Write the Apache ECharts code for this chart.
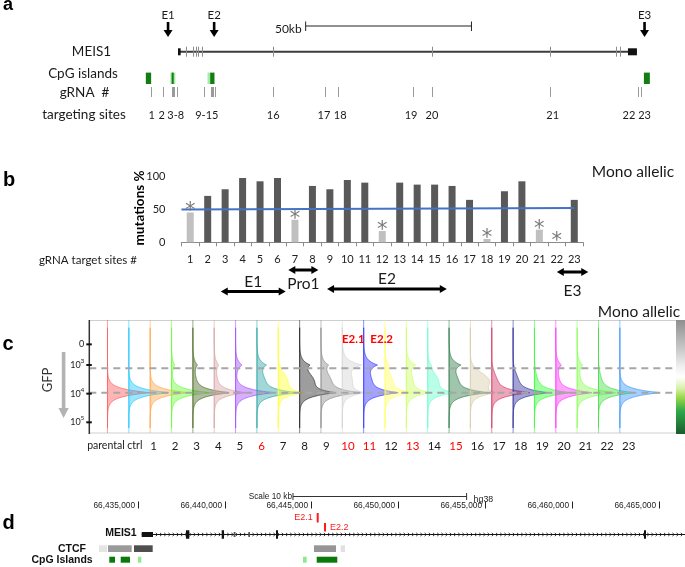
<!DOCTYPE html>
<html><head><meta charset="utf-8">
<script src="https://cdn.jsdelivr.net/npm/echarts@6/dist/echarts.min.js"></script>
<style>html,body{margin:0;padding:0;background:#fff}#chart{width:685px;height:567px}</style>
</head><body><div id="chart"></div>
<script>
// ================= DATA =================
// ---- Panel a: MEIS1 locus (kb from gene start) ----
const geneSpanKb = [0, 138.4];
const endExonsKb = [[0, 0.8], [135.7, 138.4]];
const exonKb = [2.4, 4.5, 5.3, 6.0, 7.1, 28.6, 76.6, 112.3, 132.1, 133.2];
const cpgIslandKb = [[-9.7, -8.1, 1], [-2.3, -0.8, 0], [-1.9, -1.3, 1], [8.9, 9.7, 0], [9.7, 11.0, 1], [140.5, 142.3, 1]];
const gRnaTickKb = [-8.2, -4.6, -1.9, -1.6, -1.2, -0.2, 7.8, 10.0, 10.3, 10.6, 11.2, 28.6, 44.3, 48.3, 70.8, 76.6, 112.3, 138.7, 139.6];
const siteLabelKb = [-7.9, -4.9, -0.7, 8.7, 28.7, 44.0, 48.9, 70.3, 76.6, 113.0, 136.0, 140.7];
const siteLabelText = ['1', '2', '3-8', '9-15', '16', '17', '18', '19', '20', '21', '22', '23'];
const enhancerKb = [-3.0, 10.9, 140.7];
const enhancerNames = ['E1', 'E2', 'E3'];
const scaleBarKb = [38.5, 88.5];
const scaleBarText = '50kb';

// ---- Panel b: mutation % per gRNA target site ----
const sites = ['1','2','3','4','5','6','7','8','9','10','11','12','13','14','15','16','17','18','19','20','21','22','23'];
const mutationPct = [45, 70, 80, 97, 92, 97, 34, 85, 80, 94, 90, 17, 90, 87, 87, 85, 64, 5, 77, 92, 19, 0, 64];
const starred = [1, 0, 0, 0, 0, 0, 1, 0, 0, 0, 0, 1, 0, 0, 0, 0, 0, 1, 0, 0, 1, 1, 0];
const trendSite = [0.5, 23];
const trendPct = [49.5, 51.8];
const regionNames = ['E1', 'Pro1', 'E2', 'E3'];
const regionFrom = [2.75, 6.62, 8.84, 22.0];
const regionTo = [6.47, 8.34, 15.7, 23.8];

// ---- Panel c: GFP flow histograms (25 lanes) ----
const laneColors = ['#ff5a5a','#1ec8ff','#ffa64d','#66ff33','#4d6b26','#d9a3a3','#a64dff','#2ea6a6','#ffff33','#262626','#8c8c8c','#d4d4d4','#3333ff','#ffff66','#ccff66','#66ffcc','#2e7d4a','#d6cca8','#d63864','#30309e','#33ff33','#ff33ff','#88ff55','#44dd44','#3c96ff'];
const mainPeak  = [2.0,1.9,1.8,1.8,1.7,1.45,1.8,1.85,1.05,1.5,1.75,0.9,1.55,1.2,1.05,1.1,1.75,0.9,1.75,1.6,1.7,1.7,1.8,1.65,1.9];
const upperPeak = [0,0,0,0.15,0.2,0.2,0.3,0.4,0,0.4,0.3,0.85,0.6,0.15,0.4,0.1,0.5,0,0,0,0,0.25,0.25,0,0];
const shoulder  = [0,0,0,0,0.1,0.1,0,0.3,0.4,0.6,0.4,0.4,0.3,0.3,0.25,0.45,0.35,0.85,0.2,0.2,0.1,0.1,0.1,0.1,0];
const gfpTickVal = [2.28, 3, 4, 5];
const gfpTickBase = ['0', '10', '10', '10'];
const gfpTickExp = ['', '3', '4', '5'];
const gateLines = [3.115, 3.967];
const laneLabels = ['parental ctrl','1','2','3','4','5','6','7','8','9','10','11','12','13','14','15','16','17','18','19','20','21','22','23'];
const redLabels = ['6', '10', '11', '13', '15'];
const laneAnnot = [['10', 'E2.1'], ['11', 'E2.2']];

// ---- Panel d: UCSC view (hg38) ----
const ucscTicks = [66435000, 66440000, 66445000, 66450000, 66455000, 66460000, 66465000];
const scaleD = [66443946, 66453946];
const geneSpanD = [66435230, 66470000];
const utrD = [66435230, 66435881];
const exonsD = [[66437782, 66437972, 1], [66439839, 66439971, 1], [66440530, 66440622, 0], [66441382, 66441469, 0], [66442967, 66443082, 1], [66464165, 66464280, 1]];
const ctcfD = [[66432771, 66433232, 0.05], [66433289, 66434654, 0.4], [66434787, 66435864, 0.75], [66445156, 66446423, 0.42], [66446694, 66446941, 0.07]];
const cpgD = [[66433364, 66433692, 1], [66434021, 66434556, 1], [66435017, 66435207, 0], [66444522, 66444735, 0], [66445311, 66446498, 1]];
const guidesD = [66445369, 66445790];
const guideNames = ['E2.1', 'E2.2'];

// ================= STYLE / RENDER =================
const FONT = 'Lato, "Noto Sans", sans-serif';
const ARIAL = '"Liberation Sans", Arial, sans-serif';
function hexA(hex, a) {
  const n = parseInt(hex.slice(1), 16);
  return 'rgba(' + (n >> 16) + ',' + ((n >> 8) & 255) + ',' + (n & 255) + ',' + a + ')';
}
function X(api, v) { return api.coord([v, 0])[0]; }
function fmt(n) { return String(n).replace(/\B(?=(\d{3})+(?!\d))/g, ','); }
function T(text, x, y, o) {
  o = o || {};
  return { type: 'text', x: x, y: y, rotation: o.rot || 0, silent: true,
    style: { text: text, x: 0, y: 0, fill: o.color || '#1a1a1a', fontSize: o.size || 12, fontFamily: o.font || FONT,
      fontWeight: o.weight || 'normal', align: o.align || 'center', verticalAlign: 'middle' } };
}
function cs(xi, yi, data, render, z) {
  return { type: 'custom', xAxisIndex: xi, yAxisIndex: yi, data: data, renderItem: render, silent: true, animation: false, clip: false, z: z || 2 };
}
const series = [];

// ---- Panel a ----
series.push(cs(0, 0, [geneSpanKb], (p, api) => ({ type: 'line',
  shape: { x1: X(api, api.value(0)), y1: 51.7, x2: X(api, api.value(1)), y2: 51.7 }, style: { stroke: '#3c3c3c', lineWidth: 2 } })));
series.push(cs(0, 0, endExonsKb, (p, api) => {
  const x1 = X(api, api.value(0)), x2 = X(api, api.value(1));
  return { type: 'rect', shape: { x: x1, y: 48.3, width: Math.max(2.5, x2 - x1), height: 7 }, style: { fill: '#111' } };
}, 3));
series.push(cs(0, 0, exonKb.map(v => [v]), (p, api) => {
  const x = Math.round(X(api, api.value(0))) + 0.5;
  return { type: 'line', shape: { x1: x, y1: 46.7, x2: x, y2: 56.7 }, style: { stroke: '#8c8c8c', lineWidth: 1 } };
}, 3));
series.push(cs(0, 0, cpgIslandKb, (p, api) => {
  const x1 = X(api, api.value(0)), x2 = X(api, api.value(1));
  return { type: 'rect', shape: { x: x1, y: 72.6, width: x2 - x1, height: 11.4 }, style: { fill: api.value(2) ? '#137c13' : '#a6eaa6' } };
}));
series.push(cs(0, 0, gRnaTickKb.map(v => [v]), (p, api) => {
  const x = Math.round(X(api, api.value(0))) + 0.5;
  return { type: 'line', shape: { x1: x, y1: 87, x2: x, y2: 97 }, style: { stroke: '#9a9a9a', lineWidth: 1 } };
}));
series.push(cs(0, 0, siteLabelKb.map((v, i) => [v, i]), (p, api) =>
  T(siteLabelText[api.value(1)], X(api, api.value(0)), 115, { size: 11 })));
series.push(cs(0, 0, enhancerKb.map((v, i) => [v, i]), (p, api) => {
  const x = X(api, api.value(0));
  return { type: 'group', children: [
    T(enhancerNames[api.value(1)], x, 15, { size: 11.5 }),
    { type: 'rect', shape: { x: x - 1.3, y: 22, width: 2.6, height: 9 }, style: { fill: '#000' } },
    { type: 'polygon', shape: { points: [[x - 4.5, 30], [x + 4.5, 30], [x, 37]] }, style: { fill: '#000' } }
  ] };
}));
series.push(cs(0, 0, [scaleBarKb], (p, api) => {
  const x1 = X(api, api.value(0)), x2 = X(api, api.value(1));
  return { type: 'group', children: [
    { type: 'line', shape: { x1: x1, y1: 26, x2: x2, y2: 26 }, style: { stroke: '#222', lineWidth: 1 } },
    { type: 'line', shape: { x1: x1, y1: 21.5, x2: x1, y2: 31 }, style: { stroke: '#222', lineWidth: 1 } },
    { type: 'line', shape: { x1: x2, y1: 21.5, x2: x2, y2: 31 }, style: { stroke: '#222', lineWidth: 1 } },
    T(scaleBarText, x1 - 4, 28.7, { size: 12, align: 'right' })
  ] };
}));

// ---- Panel b ----
series.push({ type: 'bar', xAxisIndex: 1, yAxisIndex: 1, barWidth: 7, animation: false, silent: true,
  data: mutationPct.map((v, i) => ({ value: v, itemStyle: { color: starred[i] ? '#c0c0c0' : '#595959' } })) });
series.push({ type: 'line', xAxisIndex: 2, yAxisIndex: 1, animation: false, silent: true, symbol: 'none',
  lineStyle: { color: '#4472c4', width: 2 }, data: trendSite.map((s, i) => [s, trendPct[i]]), z: 4 });
series.push(cs(1, 1, mutationPct.map((v, i) => [i, v]).filter((d, i) => starred[i]), (p, api) => {
  const pt = api.coord([api.value(0), api.value(1)]);
  return T('*', pt[0], pt[1] - 0.5, { size: 21, color: '#7a7a7a', font: '"DejaVu Sans", sans-serif' });
}, 5));
series.push(cs(2, 1, regionNames.map((n, i) => [regionFrom[i], regionTo[i], i]), (p, api) => {
  const x1 = X(api, api.value(0)), x2 = X(api, api.value(1)), i = api.value(2);
  const lay = { E1: [291.5, 281.5], Pro1: [270, 283.5], E2: [289, 279], E3: [272, 290.5] }[regionNames[i]];
  const y = lay[0];
  return { type: 'group', children: [
    { type: 'line', shape: { x1: x1 + 5, y1: y, x2: x2 - 5, y2: y }, style: { stroke: '#000', lineWidth: 3 } },
    { type: 'polygon', shape: { points: [[x1, y], [x1 + 7, y - 4], [x1 + 7, y + 4]] }, style: { fill: '#000' } },
    { type: 'polygon', shape: { points: [[x2, y], [x2 - 7, y - 4], [x2 - 7, y + 4]] }, style: { fill: '#000' } },
    T(regionNames[i], (x1 + x2) / 2, lay[1], { size: 15.5 })
  ] };
}));

// ---- Panel c ----
const MAIN_POS = 3.967, UPPER_POS = 3.0, SHOULDER_POS = 3.55;
series.push(cs(3, 2, [[0]], (p, api) => {
  const l = X(api, -0.852), r = X(api, 26.63);
  const top = api.coord([0, 1.43])[1], bot = api.coord([0, 5.373])[1];
  return { type: 'group', children: [
    { type: 'line', shape: { x1: l, y1: top + 0.5, x2: r, y2: top + 0.5 }, style: { stroke: '#cfcfcf', lineWidth: 1 } },
    { type: 'line', shape: { x1: l, y1: bot, x2: r, y2: bot }, style: { stroke: '#cfcfcf', lineWidth: 1 } }
  ] };
}, 1));
series.push(cs(3, 2, laneColors.map((c, i) => [i, mainPeak[i], upperPeak[i], shoulder[i]]), (p, api) => {
  const i = api.value(0), m = api.value(1), u = api.value(2), s = api.value(3);
  const x0 = X(api, i);
  const unit = api.size([1, 0])[0];
  const col = laneColors[i];
  const yTop = api.coord([i, 1.43])[1], yBot = api.coord([i, 5.373])[1];
  const pts = [[x0, api.coord([i, 1.7])[1]]];
  for (let v = 1.7; v <= 5.2; v += 0.01) {
    const off = m * Math.exp(-Math.abs(v - MAIN_POS) / 0.14) + u * Math.exp(-Math.abs(v - UPPER_POS) / 0.17)
      + s * Math.exp(-Math.pow((v - SHOULDER_POS) / 0.28, 2) / 2);
    pts.push([x0 + off * unit, api.coord([i, v])[1]]);
  }
  pts.push([x0, api.coord([i, 5.2])[1]]);
  return { type: 'group', children: [
    { type: 'line', shape: { x1: x0, y1: yTop, x2: x0, y2: yBot }, style: { stroke: hexA(col, 0.55), lineWidth: 1 } },
    { type: 'polygon', shape: { points: pts }, style: { fill: hexA(col, 0.45), stroke: hexA(col, 0.9), lineWidth: 0.8 } }
  ] };
}, 2));
series.push(cs(3, 2, gateLines.map(v => [v]), (p, api) => {
  const y = api.coord([0, api.value(0)])[1];
  return { type: 'line', shape: { x1: X(api, -0.852), y1: y, x2: X(api, 26.63), y2: y },
    style: { stroke: '#a6a6a6', lineWidth: 2, lineDash: [7, 5] } };
}, 6));
series.push(cs(3, 2, [[0]], (p, api) => {
  const x = X(api, -0.852);
  return { type: 'line', shape: { x1: x, y1: api.coord([0, 1.43])[1], x2: x, y2: api.coord([0, 5.373])[1] + 1 },
    style: { stroke: '#333', lineWidth: 1.5 } };
}, 7));
series.push(cs(3, 2, gfpTickVal.map((v, i) => [v, i]), (p, api) => {
  const x = X(api, -0.852), y = api.coord([0, api.value(0)])[1], i = api.value(1);
  const ch = [{ type: 'line', shape: { x1: x - 3, y1: y, x2: x + 2.5, y2: y }, style: { stroke: '#111', lineWidth: 2 } }];
  if (gfpTickExp[i]) {
    ch.push(T(gfpTickExp[i], x - 5, y - 4, { size: 6.5, align: 'right', color: '#222' }));
    ch.push(T(gfpTickBase[i], x - 8.5, y, { size: 9, align: 'right', color: '#222' }));
  } else {
    ch.push(T(gfpTickBase[i], x - 5, y, { size: 9, align: 'right', color: '#222' }));
  }
  return { type: 'group', children: ch };
}, 7));
series.push(cs(4, 3, laneLabels.map((l, i) => [i]), (p, api) => {
  const i = api.value(0), x = X(api, i);
  const lab = laneLabels[i];
  if (i === 0) return T(lab, x + 10.5, 446, { size: 10.5, align: 'right' });
  return T(lab, x, 446, { size: 11.5, color: redLabels.indexOf(lab) >= 0 ? '#ff0000' : '#1a1a1a' });
}));
series.push(cs(4, 3, laneAnnot.map((a, k) => [laneLabels.indexOf(a[0]), k]), (p, api) => {
  const k = api.value(1), x = X(api, api.value(0)) + [5.4, 12.2][k];
  return T(laneAnnot[k][1], x, 339, { size: 11.5, weight: 'bold', color: '#ff0000' });
}));

// ---- Panel d ----
series.push(cs(5, 4, ucscTicks.map(v => [v]), (p, api) => {
  const x = Math.round(X(api, api.value(0))) + 0.5;
  return { type: 'group', children: [
    { type: 'line', shape: { x1: x, y1: 501.5, x2: x, y2: 508.5 }, style: { stroke: '#222', lineWidth: 1 } },
    T(fmt(api.value(0)), x - 3.5, 506, { size: 8.3, font: ARIAL, align: 'right', color: '#222' })
  ] };
}));
series.push(cs(5, 4, [scaleD], (p, api) => {
  const x1 = X(api, api.value(0)), x2 = X(api, api.value(1));
  return { type: 'group', children: [
    { type: 'line', shape: { x1: x1, y1: 496.5, x2: x2, y2: 496.5 }, style: { stroke: '#333', lineWidth: 1 } },
    { type: 'line', shape: { x1: x1, y1: 493, x2: x1, y2: 500 }, style: { stroke: '#333', lineWidth: 1 } },
    { type: 'line', shape: { x1: x2, y1: 493, x2: x2, y2: 500 }, style: { stroke: '#333', lineWidth: 1 } },
    T('Scale 10 kb', x1 - 1, 496.5, { size: 8.3, font: ARIAL, align: 'right', color: '#222' }),
    T('hg38', x2 + 7, 499.5, { size: 8.8, font: ARIAL, align: 'left', color: '#222' })
  ] };
}));
series.push(cs(5, 4, [[geneSpanD[0], geneSpanD[1], utrD[0], utrD[1]]], (p, api) => {
  const x1 = X(api, api.value(0)), x2 = Math.min(685, X(api, api.value(1)));
  const u1 = X(api, api.value(2)), u2 = X(api, api.value(3));
  const y = 534.5;
  const ch = [{ type: 'line', shape: { x1: x1, y1: y, x2: x2, y2: y }, style: { stroke: '#111', lineWidth: 1 } },
    { type: 'rect', shape: { x: u1, y: y - 2.5, width: u2 - u1, height: 5 }, style: { fill: '#111' } }];
  for (let x = u2 + 4; x < x2; x += 4.2) {
    ch.push({ type: 'polyline', shape: { points: [[x - 1.2, y - 1.6], [x + 0.6, y], [x - 1.2, y + 1.6]] }, style: { stroke: '#222', lineWidth: 0.9, fill: null } });
  }
  return { type: 'group', children: ch };
}));
series.push(cs(5, 4, exonsD, (p, api) => {
  const x1 = X(api, api.value(0)), x2 = X(api, api.value(1)), tall = api.value(2);
  const h = tall ? 8.5 : 5;
  return { type: 'rect', shape: { x: x1, y: 534.5 - h / 2, width: Math.max(1.5, x2 - x1), height: h }, style: { fill: tall ? '#111' : '#555' } };
}, 3));
series.push(cs(5, 4, ctcfD, (p, api) => {
  const x1 = X(api, api.value(0)), x2 = X(api, api.value(1));
  const g = Math.round(240 - api.value(2) * 215);
  return { type: 'rect', shape: { x: x1, y: 545.3, width: x2 - x1, height: 6.7 }, style: { fill: 'rgb(' + g + ',' + g + ',' + g + ')' } };
}));
series.push(cs(5, 4, cpgD, (p, api) => {
  const x1 = X(api, api.value(0)), x2 = X(api, api.value(1));
  return { type: 'rect', shape: { x: x1, y: 556.7, width: x2 - x1, height: 6 }, style: { fill: api.value(2) ? '#0b7a0b' : '#8fe98f' } };
}));
series.push(cs(5, 4, guidesD.map((v, i) => [v, i]), (p, api) => {
  const x = X(api, api.value(0)), i = api.value(1);
  if (i === 0) return { type: 'group', children: [
    { type: 'rect', shape: { x: x - 1, y: 513, width: 2, height: 9.5 }, style: { fill: '#ff1a1a' } },
    T(guideNames[i], x - 5, 517.7, { size: 9, font: ARIAL, align: 'right', color: '#ff1a1a' })] };
  return { type: 'group', children: [
    { type: 'rect', shape: { x: x - 1, y: 523, width: 2, height: 8.5 }, style: { fill: '#ff1a1a' } },
    T(guideNames[i], x + 5, 528, { size: 9, font: ARIAL, align: 'left', color: '#ff1a1a' })] };
}));

// ---- static texts & decorations ----
const graphic = [
  T('a', 8, 5, { size: 18, weight: 'bold', font: ARIAL, color: '#000' }),
  T('b', 9, 180, { size: 20, weight: 'bold', font: ARIAL, color: '#000' }),
  T('c', 8, 344, { size: 20, weight: 'bold', font: ARIAL, color: '#000' }),
  T('d', 8.5, 523, { size: 20, weight: 'bold', font: ARIAL, color: '#000' }),
  T('MEIS1', 91.5, 51.7, { size: 13.5 }),
  T('CpG islands', 83, 74, { size: 13.5 }),
  T('gRNA  #', 84.5, 93, { size: 13.5 }),
  T('targeting sites', 84, 115, { size: 13.5 }),
  T('mutations %', 140, 208, { size: 13.5, weight: 'bold', rot: Math.PI / 2, color: '#000' }),
  T('gRNA target sites #', 39, 260, { size: 11.5, align: 'left' }),
  T('Mono allelic', 633, 171.5, { size: 15.5 }),
  T('Mono allelic', 639, 311.5, { size: 15.5 }),
  T('GFP', 48, 380, { size: 13, rot: Math.PI / 2, color: '#333' }),
  { type: 'rect', silent: true, shape: { x: 61.8, y: 352, width: 3.6, height: 57 }, style: { fill: '#b3b3b3' } },
  { type: 'polygon', silent: true, shape: { points: [[58.5, 408], [68.7, 408], [63.6, 418]] }, style: { fill: '#b3b3b3' } },
  { type: 'rect', silent: true, shape: { x: 676, y: 320, width: 9, height: 114 },
    style: { fill: new echarts.graphic.LinearGradient(0, 0, 0, 1, [
      { offset: 0, color: '#8f8f8f' }, { offset: 0.25, color: '#c8c8c8' }, { offset: 0.42, color: '#f2f2f2' },
      { offset: 0.5, color: '#ffffff' }, { offset: 0.6, color: '#d8f0a8' }, { offset: 0.68, color: '#9ad84a' },
      { offset: 0.8, color: '#2ea84a' }, { offset: 1, color: '#1a5c2c' }]) } },
  T('MEIS1', 136.7, 533.5, { size: 10.5, weight: 'bold', font: ARIAL, align: 'right', color: '#111' }),
  T('CTCF', 86, 548.7, { size: 10.5, weight: 'bold', font: ARIAL, align: 'right', color: '#111' }),
  T('CpG Islands', 92.7, 559.7, { size: 10.5, weight: 'bold', font: ARIAL, align: 'right', color: '#111' })
];

const hidden = { show: false };
const option = {
  backgroundColor: '#fff',
  animation: false,
  grid: [
    { left: 0, top: 0, width: 685, height: 130 },
    { left: 181.5, top: 176, width: 401.5, height: 66.3 },
    { left: 89.3, top: 320, width: 586.7, height: 113 },
    { left: 121.1, top: 440, width: 518.4, height: 12 },
    { left: 137.7, top: 490, width: 520.8, height: 75 }
  ],
  xAxis: [
    Object.assign({ type: 'value', gridIndex: 0, min: -53.68, max: 152.9 }, hidden),
    { type: 'category', gridIndex: 1, data: sites,
      axisLine: { lineStyle: { color: '#8a8a8a', width: 1 } },
      axisTick: { show: true, interval: 0, length: 4, lineStyle: { color: '#8a8a8a' } },
      axisLabel: { interval: 0, fontSize: 11, fontFamily: FONT, color: '#222', margin: 12 } },
    Object.assign({ type: 'value', gridIndex: 1, min: 0.5, max: 23.5 }, hidden),
    Object.assign({ type: 'value', gridIndex: 2, min: -0.852, max: 26.63 }, hidden),
    Object.assign({ type: 'category', gridIndex: 3, data: laneLabels }, hidden),
    Object.assign({ type: 'value', gridIndex: 4, min: 66435000, max: 66465000 }, hidden)
  ],
  yAxis: [
    Object.assign({ type: 'value', gridIndex: 0, min: 0, max: 1 }, hidden),
    { type: 'value', gridIndex: 1, min: 0, max: 100, interval: 50,
      axisLine: { show: false }, axisTick: { show: false }, splitLine: { show: false },
      axisLabel: { fontSize: 11, fontFamily: FONT, color: '#222', margin: 16 } },
    Object.assign({ type: 'value', gridIndex: 2, min: 1.43, max: 5.373, inverse: true }, hidden),
    Object.assign({ type: 'value', gridIndex: 3, min: 0, max: 1 }, hidden),
    Object.assign({ type: 'value', gridIndex: 4, min: 0, max: 1 }, hidden)
  ],
  graphic: graphic,
  series: series
};
const chart = echarts.init(document.getElementById('chart'), null, { width: 685, height: 567, renderer: 'canvas' });
chart.setOption(option);
</script></body></html>
